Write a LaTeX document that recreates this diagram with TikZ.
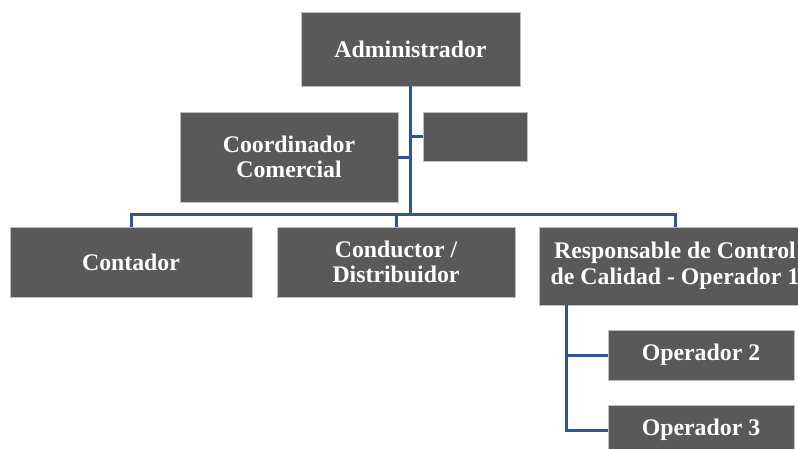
\documentclass[tikz,border=0pt]{standalone}
\usepackage{fontspec}
\setmainfont{Liberation Serif}
\definecolor{boxgray}{RGB}{89,89,89}
\definecolor{boxedge}{RGB}{190,190,190}
\definecolor{linkblue}{RGB}{47,85,151}
\begin{document}
\begin{tikzpicture}[x=1pt,y=-1pt,
  orgbox/.style={rectangle, fill=boxgray, draw=boxedge, line width=0.6pt,
    inner sep=0pt, align=center, text=white,
    font=\fontsize{23.8}{25.5}\selectfont\bfseries},
  link/.style={draw=linkblue, line width=3pt}]
\useasboundingbox (0,0) rectangle (798,448);

% boxes
\node[orgbox, minimum width=219, minimum height=74] (admin) at (410.5,49) {Administrador};
\node[orgbox, minimum width=218, minimum height=90] (coord) at (289,157) {Coordinador\\Comercial};
\node[orgbox, minimum width=104, minimum height=49] (aux) at (475,136.5) {};
\node[orgbox, minimum width=242, minimum height=70] (cont) at (131,262) {Contador};
\node[orgbox, minimum width=238, minimum height=70] (cond) at (396,262) {Conductor /\\Distribuidor};
\node[orgbox, minimum width=272, minimum height=78] (resp) at (675,266) {Responsable de Control\\de Calidad - Operador 1};
\node[orgbox, minimum width=186, minimum height=50] (op2) at (701,355) {Operador 2};
\node[orgbox, minimum width=186, minimum height=50] (op3) at (701,430) {Operador 3};

% connector anchors
\coordinate (bus) at (410,214);
\coordinate (optop) at (566,305);

% connectors
\draw[link] (admin.south) -- (admin.south |- bus);
\draw[link] (coord.east) -- (coord.east -| admin.south);
\draw[link] (aux.west) -- (aux.west -| admin.south);
\draw[link] (cont.north) -- (cont.north |- bus) -- (resp.north |- bus) -- (resp.north);
\draw[link] (cond.north) -- (cond.north |- bus);
\draw[link] (optop) |- (op3.west);
\draw[link] (op2.west) -- (op2.west -| optop);
\end{tikzpicture}
\end{document}
